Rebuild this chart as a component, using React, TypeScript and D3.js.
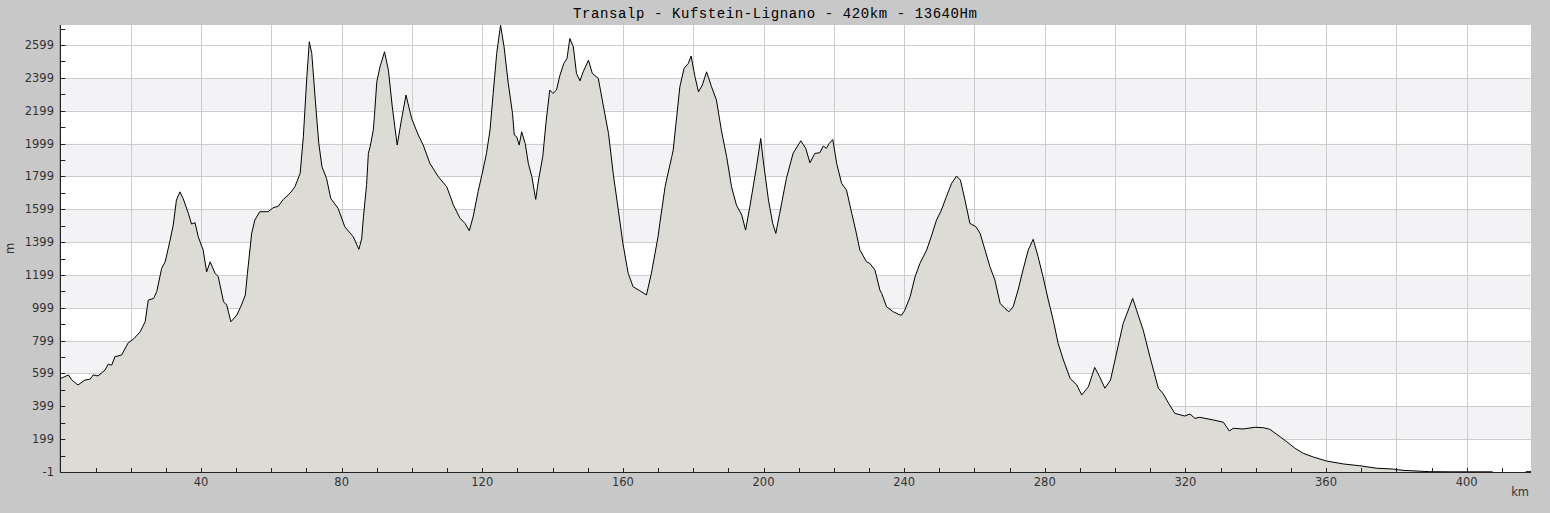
import React from 'react';
import * as d3 from 'd3';

const chartTitle = 'Transalp - Kufstein-Lignano - 420km - 13640Hm';

// distance along the route (km) and elevation (m)
const distanceKm = [
  0, 0.2, 2.3, 3.2, 5.0, 7.0, 8.5, 9.3, 10.7, 12.7, 13.6, 14.6, 15.5, 17.4, 19.3, 20.7, 22.7, 24.1, 25.0, 26.5,
  27.4, 28.8, 29.8, 31.1, 32.1, 33.0, 34.0, 34.9, 36.4, 37.3, 38.3, 39.2, 40.6, 41.6, 42.6, 44.0, 44.9, 46.4, 47.3, 48.5,
  50.2, 51.5, 52.6, 53.2, 54.4, 55.3, 56.7, 59.1, 60.5, 62.0, 63.4, 65.3, 66.7, 68.2, 69.1, 70.1, 70.8, 71.5, 72.5, 73.5,
  74.4, 75.7, 76.9, 79.0, 80.9, 83.3, 84.9, 85.7, 86.2, 87.1, 87.6, 88.1, 89.0, 89.3, 90.0, 90.9, 92.2, 93.3, 94.4, 95.8,
  97.0, 98.3, 99.9, 101.8, 103.2, 105.1, 107.5, 109.9, 111.8, 113.7, 115.1, 116.3, 117.4, 118.8, 120.2, 121.2, 122.2, 123.1, 124.1, 125.2,
  126.2, 127.4, 128.6, 129.1, 129.8, 130.5, 131.2, 132.2, 133.1, 134.1, 135.2, 136.0, 137.2, 138.2, 139.2, 140.1, 141.1, 142.1, 143.2, 144.1,
  144.9, 145.9, 146.8, 147.8, 148.7, 150.2, 151.3, 153.0, 154.4, 155.9, 157.3, 158.7, 160.0, 161.5, 162.9, 164.8, 166.7, 168.1, 170.0, 170.5,
  172.0, 172.4, 173.9, 174.3, 175.3, 176.2, 177.4, 178.6, 179.4, 180.5, 181.5, 182.6, 183.8, 185.2, 186.6, 188.0, 189.5, 190.9, 192.3, 193.8,
  194.9, 196.1, 198.0, 199.2, 199.9, 201.4, 202.6, 203.5, 204.6, 206.5, 208.4, 210.6, 212.0, 213.2, 214.6, 216.0, 217.0, 217.9, 218.7, 219.7,
  220.8, 222.2, 223.6, 225.1, 226.2, 227.4, 229.3, 230.2, 231.7, 233.1, 233.6, 235.0, 236.9, 238.8, 239.3, 240.2, 241.7, 243.1, 244.5, 246.4,
  247.7, 249.2, 250.6, 252.0, 253.5, 254.9, 256.0, 257.3, 258.7, 260.4, 261.6, 263.0, 264.4, 265.8, 267.3, 268.6, 269.8, 271.0, 272.4, 273.8,
  275.3, 276.7, 278.1, 279.5, 281.0, 282.4, 283.8, 285.3, 287.2, 289.1, 290.5, 292.4, 294.2, 295.6, 297.1, 298.7, 300.4, 302.3, 305.0, 306.1,
  308.0, 309.9, 312.3, 313.6, 315.5, 317.0, 319.8, 321.3, 322.7, 324.1, 327.9, 330.8, 332.5, 333.6, 336.4, 339.7, 342.1, 344.0, 346.9, 348.8,
  351.2, 353.5, 356.4, 360.1, 364.9, 369.6, 374.4, 379.0, 381.9, 389.5, 396.1, 407.4, 412.0, 416.8, 418.3,
];

const elevationM: (number | null)[] = [
  575, 570, 590, 560, 529, 559, 565, 590, 584, 620, 655, 650, 701, 711, 786, 807, 853, 914, 1046, 1056,
  1097, 1239, 1279, 1401, 1503, 1655, 1705, 1665, 1574, 1509, 1517, 1432, 1351, 1218, 1279, 1209, 1188, 1036, 1016, 914,
  955, 1016, 1077, 1209, 1452, 1533, 1584, 1584, 1608, 1618, 1659, 1696, 1736, 1818, 2040, 2406, 2619, 2548, 2264, 2000,
  1858, 1787, 1665, 1604, 1492, 1432, 1355, 1420, 1553, 1750, 1939, 1980, 2081, 2162, 2375, 2466, 2558, 2446, 2223, 1990,
  2142, 2294, 2152, 2051, 1990, 1878, 1797, 1736, 1624, 1543, 1513, 1468, 1553, 1705, 1838, 1939, 2081, 2304, 2548, 2720,
  2588, 2365, 2183, 2051, 2040, 1990, 2071, 2000, 1878, 1797, 1659, 1777, 1919, 2142, 2325, 2304, 2325, 2416, 2487, 2517,
  2639, 2588, 2426, 2381, 2436, 2507, 2426, 2396, 2233, 2061, 1807, 1594, 1391, 1209, 1127, 1103, 1077, 1209, 1432, 1513,
  1736, 1777, 1919, 1959, 2162, 2345, 2457, 2487, 2532, 2406, 2314, 2355, 2436, 2345, 2264, 2081, 1919, 1736, 1624, 1564,
  1472, 1614, 1858, 2030, 1898, 1655, 1513, 1452, 1574, 1787, 1939, 2016, 1970, 1882, 1939, 1943, 1984, 1970, 2000, 2024,
  1878, 1757, 1716, 1574, 1472, 1351, 1279, 1270, 1229, 1107, 1087, 1005, 975, 955, 955, 985, 1066, 1188, 1270, 1351,
  1432, 1533, 1594, 1675, 1757, 1801, 1777, 1655, 1513, 1493, 1452, 1351, 1249, 1168, 1026, 996, 975, 1005, 1107, 1229,
  1351, 1416, 1310, 1188, 1046, 924, 782, 681, 569, 529, 468, 518, 636, 579, 509, 559, 722, 904, 1056, 985,
  863, 701, 509, 478, 407, 356, 340, 352, 326, 332, 316, 302, 249, 265, 261, 271, 269, 259, 214, 184,
  143, 113, 90, 66, 48, 37, 22, 17, 9, 1, 0, 0, null, 1, 1,
];

const yGridValues = [199, 399, 599, 799, 999, 1199, 1399, 1599, 1799, 1999, 2199, 2399, 2599];
const yTickLabels = [-1, 199, 399, 599, 799, 999, 1199, 1399, 1599, 1799, 1999, 2199, 2399, 2599];
const xTickLabels = [40, 80, 120, 160, 200, 240, 280, 320, 360, 400];

const W = 1550;
const H = 513;
const plot = { left: 60.4, right: 1531, top: 25, bottom: 472 };

export default function App() {
  const x = d3.scaleLinear().domain([0, 418.3]).range([plot.left, plot.right]);
  const y = d3.scaleLinear().domain([-1, 2721]).range([plot.bottom, plot.top]);

  const points = distanceKm.map((d, i) => ({ km: d, m: elevationM[i] }));

  const area = d3.area<{ km: number; m: number | null }>()
    .defined(d => d.m !== null)
    .x(d => x(d.km))
    .y0(y(-1))
    .y1(d => y(d.m as number));
  const line = d3.line<{ km: number; m: number | null }>()
    .defined(d => d.m !== null)
    .x(d => x(d.km))
    .y(d => y(d.m as number));

  const minorY = d3.range(-1, 2700, 100);
  const minorX = d3.range(0, 418, 10);
  const xGrid = d3.range(20, 418, 20);

  const labelStyle = { fontFamily: '"DejaVu Sans", sans-serif', fontSize: 11.5, fill: '#333' };

  return (
    <svg width={W} height={H} style={{ position: 'absolute', left: 0, top: 0, display: 'block' }}>
      <rect x={0} y={0} width={W} height={H} fill="#c8c8c8" />
      <rect x={plot.left} y={plot.top} width={plot.right - plot.left} height={plot.bottom - plot.top} fill="#ffffff" />

      {/* alternating bands */}
      {yGridValues.filter((_, i) => i % 2 === 0 && i < yGridValues.length - 1).map(v => (
        <rect key={'b' + v} x={plot.left} y={y(v + 200)} width={plot.right - plot.left}
          height={y(v) - y(v + 200)} fill="#f3f2f5" />
      ))}

      {/* grid */}
      {yGridValues.map(v => (
        <line key={'gy' + v} x1={plot.left} x2={plot.right} y1={Math.round(y(v)) + 0.5} y2={Math.round(y(v)) + 0.5}
          stroke="#cccccc" strokeWidth={1} />
      ))}
      {xGrid.map(v => (
        <line key={'gx' + v} x1={Math.round(x(v)) + 0.5} x2={Math.round(x(v)) + 0.5} y1={plot.top} y2={plot.bottom}
          stroke="#cccccc" strokeWidth={1} />
      ))}

      <path d={area(points) || ''} fill="#dcdbd6" />
      <path d={line(points) || ''} fill="none" stroke="#000" strokeWidth={1} />

      {/* axes */}
      <line x1={plot.left} x2={plot.left} y1={plot.top} y2={plot.bottom + 0.5} stroke="#222" strokeWidth={1.2} />
      <line x1={plot.left} x2={plot.right} y1={plot.bottom + 0.5} y2={plot.bottom + 0.5} stroke="#222" strokeWidth={1.2} />
      {minorY.map(v => (
        <line key={'ty' + v} x1={plot.left} x2={plot.left + 5} y1={Math.round(y(v)) + 0.5} y2={Math.round(y(v)) + 0.5}
          stroke="#222" strokeWidth={1} />
      ))}
      {minorX.map(v => (
        <line key={'tx' + v} x1={Math.round(x(v)) + 0.5} x2={Math.round(x(v)) + 0.5} y1={plot.bottom - 4} y2={plot.bottom}
          stroke="#222" strokeWidth={1} />
      ))}

      {yTickLabels.map(v => (
        <text key={'ly' + v} x={54} y={y(v) + 4} textAnchor="end" style={labelStyle}>{v}</text>
      ))}
      {xTickLabels.map(v => (
        <text key={'lx' + v} x={x(v)} y={486} textAnchor="middle" style={labelStyle}>{v}</text>
      ))}
      <text x={1529} y={496} textAnchor="end" style={labelStyle}>km</text>
      <text transform={`translate(14,${(plot.top + plot.bottom) / 2}) rotate(-90)`} textAnchor="middle" style={labelStyle}>m</text>

      <text x={573} y={18} textLength={404} lengthAdjust="spacing"
        style={{ fontFamily: '"Liberation Mono", monospace', fontSize: 14, fill: '#000' }}>{chartTitle}</text>
    </svg>
  );
}
